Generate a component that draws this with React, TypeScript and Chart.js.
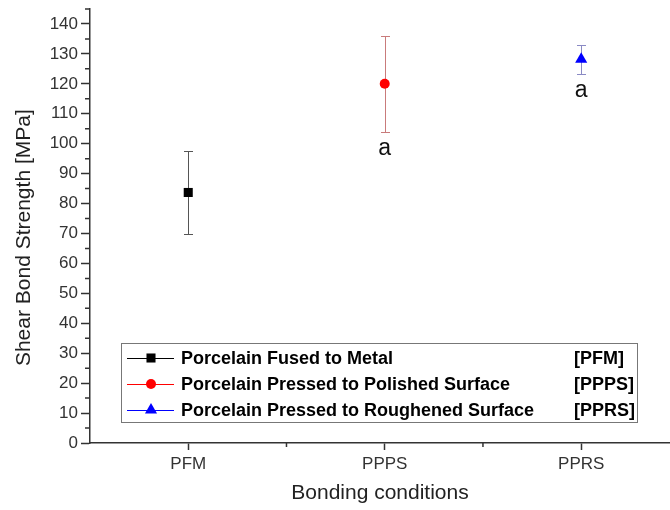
import React, { useEffect, useRef } from 'react';
import { Chart, registerables } from 'chart.js';

Chart.register(...registerables);

const CATEGORIES = ['PFM', 'PPPS', 'PPRS'];
const SERIES_NAMES = [
  'Porcelain Fused to Metal',
  'Porcelain Pressed to Polished Surface',
  'Porcelain Pressed to Roughened Surface',
];
const SERIES_ABBR = ['[PFM]', '[PPPS]', '[PPRS]'];
const MEANS = [83.7, 120.0, 128.2];
const ERRORS = [13.8, 16.0, 4.8];
const SIGNIFICANCE = ['', 'a', 'a'];
const Y_TICKS = [0, 10, 20, 30, 40, 50, 60, 70, 80, 90, 100, 110, 120, 130, 140];
const Y_MINOR = [5, 15, 25, 35, 45, 55, 65, 75, 85, 95, 105, 115, 125, 135, 145];
const X_MINOR = [0.5, 1.5];

const MARKERS = ['rect', 'circle', 'triangle'];
const MARKER_RADII = [6.4, 5, 7];
const MARKER_COLORS = ['#000000', '#ff0000', '#0000ff'];
const BAR_COLORS = ['#555555', '#c97b7b', '#8a8ac4'];
const LEGEND_LINE_COLORS = ['#000000', '#ff0000', '#0000ff'];

const FONT = "'Liberation Sans', Arial, Helvetica, sans-serif";

function drawMarker(ctx: CanvasRenderingContext2D, kind: string, x: number, y: number, r: number, color: string) {
  ctx.save();
  ctx.fillStyle = color;
  ctx.beginPath();
  if (kind === 'rect') {
    const s = Math.SQRT1_2 * r;
    ctx.rect(x - s, y - s, 2 * s, 2 * s);
  } else if (kind === 'circle') {
    ctx.arc(x, y, r, 0, Math.PI * 2);
  } else {
    ctx.moveTo(x, y - r);
    ctx.lineTo(x + Math.sin(Math.PI * 2 / 3) * r, y + r / 2);
    ctx.lineTo(x - Math.sin(Math.PI * 2 / 3) * r, y + r / 2);
    ctx.closePath();
  }
  ctx.fill();
  ctx.restore();
}

const errorBarsPlugin = {
  id: 'errorBars',
  beforeDatasetsDraw(chart: any) {
    const { ctx, scales } = chart;
    const xs = scales.x;
    const ys = scales.y;
    ctx.save();
    ctx.lineWidth = 1;
    MEANS.forEach((m, i) => {
      const x = Math.round(xs.getPixelForValue(i)) + 0.5;
      const yTop = Math.round(ys.getPixelForValue(m + ERRORS[i])) + 0.5;
      const yBot = Math.round(ys.getPixelForValue(m - ERRORS[i])) + 0.5;
      ctx.strokeStyle = BAR_COLORS[i];
      ctx.beginPath();
      ctx.moveTo(x, yTop);
      ctx.lineTo(x, yBot);
      ctx.moveTo(x - 4.5, yTop);
      ctx.lineTo(x + 4.5, yTop);
      ctx.moveTo(x - 4.5, yBot);
      ctx.lineTo(x + 4.5, yBot);
      ctx.stroke();
    });
    ctx.restore();
  },
  afterDatasetsDraw(chart: any) {
    const { ctx, scales } = chart;
    const xs = scales.x;
    const ys = scales.y;
    ctx.save();
    ctx.fillStyle = '#111';
    ctx.font = `23px ${FONT}`;
    ctx.textAlign = 'center';
    ctx.textBaseline = 'middle';
    SIGNIFICANCE.forEach((s, i) => {
      if (!s) return;
      const x = xs.getPixelForValue(i);
      const y = ys.getPixelForValue(MEANS[i] - ERRORS[i]) + 17;
      ctx.fillText(s, x, y);
    });
    ctx.restore();
  },
};

const minorTicksPlugin = {
  id: 'minorTicks',
  afterDraw(chart: any) {
    const { ctx, scales, chartArea } = chart;
    ctx.save();
    ctx.strokeStyle = '#333';
    ctx.lineWidth = 1.5;
    ctx.beginPath();
    Y_MINOR.forEach((v) => {
      const y = scales.y.getPixelForValue(v);
      ctx.moveTo(chartArea.left - 5, y);
      ctx.lineTo(chartArea.left, y);
    });
    X_MINOR.forEach((v) => {
      const x = scales.x.getPixelForValue(v);
      ctx.moveTo(x, chartArea.bottom);
      ctx.lineTo(x, chartArea.bottom + 4);
    });
    ctx.stroke();
    ctx.restore();
  },
};

const legendPlugin = {
  id: 'boxLegend',
  afterDraw(chart: any) {
    const { ctx } = chart;
    const left = 121;
    const top = 343;
    const width = 516;
    const height = 79;
    ctx.save();
    ctx.fillStyle = '#ffffff';
    ctx.fillRect(left, top, width, height);
    ctx.strokeStyle = '#777777';
    ctx.lineWidth = 1;
    ctx.strokeRect(left + 0.5, top + 0.5, width, height);
    const rows = [358, 384, 410];
    SERIES_NAMES.forEach((name, i) => {
      const y = rows[i];
      ctx.strokeStyle = LEGEND_LINE_COLORS[i];
      ctx.lineWidth = 1;
      ctx.beginPath();
      ctx.moveTo(127, Math.round(y) + 0.5);
      ctx.lineTo(174, Math.round(y) + 0.5);
      ctx.stroke();
      drawMarker(ctx, MARKERS[i], 151, y, MARKER_RADII[i], MARKER_COLORS[i]);
      ctx.fillStyle = '#000';
      ctx.font = `bold 18px ${FONT}`;
      ctx.textAlign = 'left';
      ctx.textBaseline = 'middle';
      ctx.fillText(name, 181, y + 1);
      ctx.fillText(SERIES_ABBR[i], 574, y + 1);
    });
    ctx.restore();
  },
};

export default function App() {
  const canvasRef = useRef<HTMLCanvasElement | null>(null);

  useEffect(() => {
    document.body.style.margin = '0';
    const canvas = canvasRef.current;
    if (!canvas) return;
    const chart = new Chart(canvas, {
      type: 'scatter',
      data: {
        datasets: CATEGORIES.map((c, i) => ({
          label: SERIES_NAMES[i],
          data: [{ x: i, y: MEANS[i] }],
          pointStyle: MARKERS[i] as any,
          pointRadius: MARKER_RADII[i],
          pointBackgroundColor: MARKER_COLORS[i],
          pointBorderColor: MARKER_COLORS[i],
          pointBorderWidth: 0,
          showLine: false,
          clip: false,
        })),
      },
      options: {
        animation: false,
        responsive: false,
        devicePixelRatio: 1,
        layout: { autoPadding: false, padding: { top: 9, left: 0, right: 0, bottom: 0 } },
        plugins: {
          legend: { display: false },
          tooltip: { enabled: false },
        },
        scales: {
          x: {
            type: 'linear',
            min: -0.5,
            max: 2.452,
            afterBuildTicks: (s: any) => {
              s.ticks = CATEGORIES.map((_, i) => ({ value: i }));
            },
            afterFit: (s: any) => {
              s.height = 67;
              s.paddingLeft = 0;
              s.paddingRight = 0;
            },
            grid: { drawOnChartArea: false, tickLength: 7, tickColor: '#333', tickWidth: 1.5 },
            border: { color: '#333', width: 1.5 },
            ticks: {
              callback: (v: any) => CATEGORIES[v] ?? '',
              font: { family: FONT, size: 17 },
              color: '#333',
              padding: 4,
              maxRotation: 0,
              autoSkip: false,
            },
            title: {
              display: true,
              text: 'Bonding conditions',
              font: { family: FONT, size: 21 },
              color: '#222',
              padding: { top: 0, bottom: 4 },
            },
          },
          y: {
            type: 'linear',
            min: 0,
            max: 145,
            afterBuildTicks: (s: any) => {
              s.ticks = Y_TICKS.map((v) => ({ value: v }));
            },
            afterFit: (s: any) => {
              s.width = 90;
              s.paddingTop = 0;
              s.paddingBottom = 0;
            },
            grid: { drawOnChartArea: false, tickLength: 9, tickColor: '#333', tickWidth: 1.5 },
            border: { color: '#333', width: 1.5 },
            ticks: {
              font: { family: FONT, size: 17 },
              color: '#333',
              padding: 3,
            },
            title: {
              display: true,
              text: 'Shear Bond Strength [MPa]    ',
              font: { family: FONT, size: 21 },
              color: '#222',
              padding: { top: 12, bottom: 0 },
            },
          },
        },
      },
      plugins: [errorBarsPlugin, minorTicksPlugin, legendPlugin],
    });
    return () => chart.destroy();
  }, []);

  return (
    <div style={{ position: 'relative', width: 670, height: 510 }}>
      <canvas ref={canvasRef} width={670} height={510} style={{ display: 'block' }} />
    </div>
  );
}
